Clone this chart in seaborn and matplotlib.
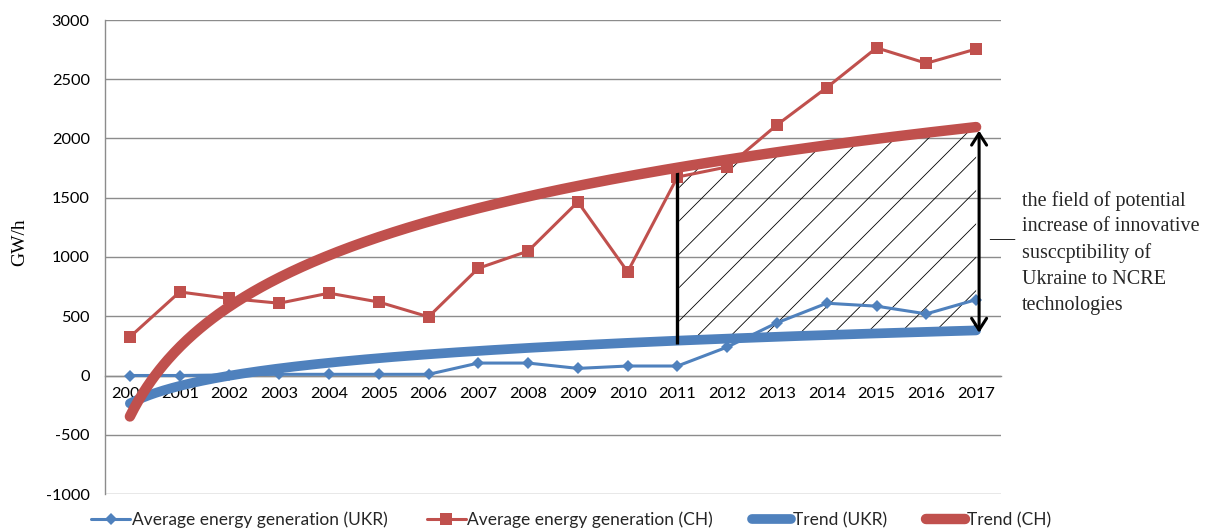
import numpy as np
import matplotlib
matplotlib.use('Agg')
import matplotlib.pyplot as plt
import seaborn as sns
import pandas as pd

years = [str(y) for y in range(2000, 2018)]
ukr = [0, 0, 5, 10, 10, 10, 10, 105, 105, 60, 80, 80, 240, 445, 610, 585, 520, 640]
ch = [325, 705, 650, 610, 695, 620, 495, 905, 1050, 1465, 875, 1675, 1760, 2115, 2430, 2765, 2635, 2755]
y_ticks = [-1000, -500, 0, 500, 1000, 1500, 2000, 2500, 3000]
hatch_from, hatch_to = "2011", "2017"
note = ("the field of potential\nincrease of innovative\nsusccptibility of\n"
        "Ukraine to NCRE\ntechnologies")

sns.set_theme(style='white')
plt.rcParams['font.family'] = ['Lato', 'DejaVu Sans']
plt.rcParams['hatch.linewidth'] = 0.6

RED = '#C0504D'
BLUE = '#4F81BD'
GRID = '#8C8C8C'

fig = plt.figure(figsize=(12.08, 5.29), dpi=100)
ax = fig.add_axes([105/1208, 1-494/529, (1001-105)/1208, (494-20)/529])

pos = np.arange(len(years))
df = pd.DataFrame({'pos': pos, 'ukr': ukr, 'ch': ch})

# logarithmic trend lines (least squares on ln(x))
lx = np.log(pos + 1)
bu, au = np.polyfit(lx, ukr, 1)
bc, ac = np.polyfit(lx, ch, 1)
fine = np.linspace(0, len(years) - 1, 400)
tr = pd.DataFrame({'pos': fine,
                   'ukr': au + bu*np.log(fine + 1),
                   'ch': ac + bc*np.log(fine + 1)})

sns.lineplot(data=df, x='pos', y='ukr', ax=ax, color=BLUE, lw=2.2, marker='D',
             markersize=6, markeredgewidth=0, label='Average energy generation (UKR)', zorder=3)
sns.lineplot(data=df, x='pos', y='ch', ax=ax, color=RED, lw=2.2, marker='s',
             markersize=9, markeredgewidth=0, label='Average energy generation (CH)', zorder=3)
sns.lineplot(data=tr, x='pos', y='ukr', ax=ax, color=BLUE, lw=7, label='Trend (UKR)',
             zorder=4, solid_capstyle='round')
sns.lineplot(data=tr, x='pos', y='ch', ax=ax, color=RED, lw=7.5, label='Trend (CH)',
             zorder=6, solid_capstyle='round')

# hatched field between trends
i0, i1 = years.index(hatch_from), years.index(hatch_to)
m = (tr.pos >= i0) & (tr.pos <= i1)
ax.fill_between(tr.pos[m], tr.ukr[m], tr.ch[m], facecolor='none', edgecolor='black',
                hatch='/', linewidth=0, zorder=2)
u0 = au + bu*np.log(i0 + 1)
c0 = ac + bc*np.log(i0 + 1)
ax.vlines(i0, u0 - 30, c0, color='black', lw=2.4, zorder=5)
u1 = au + bu*np.log(i1 + 1)
c1 = ac + bc*np.log(i1 + 1)
ax.annotate('', xy=(i1 + 0.06, c1 - 30), xytext=(i1 + 0.06, u1 - 20),
            arrowprops=dict(arrowstyle='<->,head_length=0.7,head_width=0.45', lw=2.2,
                            color='black', shrinkA=0, shrinkB=0), zorder=7)

# axes styling
ax.set_xlim(-0.5, len(years) - 0.5)
ax.set_ylim(y_ticks[0], y_ticks[-1])
ax.set_yticks(y_ticks)
ax.set_yticklabels([str(v) for v in y_ticks])
ax.set_xticks(np.arange(-0.5, len(years), 1))
ax.set_xticklabels([])
ax.set_xticks(pos, minor=True)
ax.set_xticklabels(years, minor=True)
ax.tick_params(axis='x', which='major', length=5, width=1, color=GRID, direction='out')
ax.tick_params(axis='x', which='minor', length=0, pad=8, labelsize=11.8, labelcolor='black')
ax.tick_params(axis='y', length=7, width=1, color=GRID, direction='out', pad=4,
               labelsize=11.8, labelcolor='black')
ax.yaxis.grid(True, color=GRID, lw=1)
ax.set_axisbelow(True)
for s in ['top', 'right']:
    ax.spines[s].set_visible(False)
ax.spines['bottom'].set_position(('data', 0))
ax.spines['bottom'].set_color(GRID)
ax.spines['left'].set_color(GRID)
ax.spines['bottom'].set_linewidth(1)
ax.spines['left'].set_linewidth(1)
ax.set_xlabel('')
ax.set_ylabel('GW/h', fontsize=14, family=['Liberation Serif'], color='black')
ax.yaxis.set_label_coords(-0.086, 0.532)

# annotation text
fig.text(1022/1208, 1-191/529, note, ha='left', va='top', fontsize=14.5,
         family=['Liberation Serif'], linespacing=1.47)
fig.text(989/1208, 1-238/529, '\u2014', ha='left', va='center', fontsize=18,
         family=['Liberation Serif'])

leg = ax.legend(loc='lower left', bbox_to_anchor=(91/1208, 0.002), bbox_transform=fig.transFigure,
                ncol=4, frameon=False, fontsize=12.5, handlelength=2.25, handletextpad=0.1,
                columnspacing=2.25, borderaxespad=0, borderpad=0)

fig.savefig('out.png', dpi=100)
